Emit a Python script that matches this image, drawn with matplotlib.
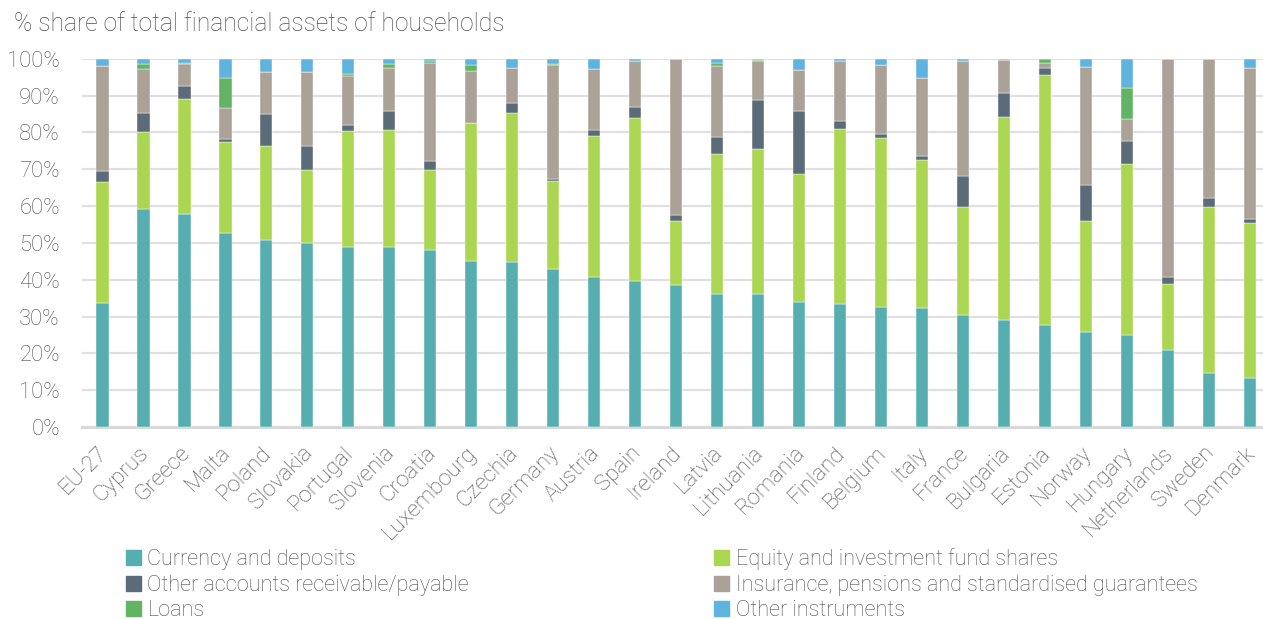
import numpy as np
import matplotlib
matplotlib.use("Agg")
import matplotlib.pyplot as plt
import matplotlib.transforms as mtrans
from matplotlib.patches import Patch

countries = ["EU-27", "Cyprus", "Greece", "Malta", "Poland", "Slovakia", "Portugal",
             "Slovenia", "Croatia", "Luxembourg", "Czechia", "Germany", "Austria", "Spain",
             "Ireland", "Latvia", "Lithuania", "Romania", "Finland", "Belgium", "Italy",
             "France", "Bulgaria", "Estonia", "Norway", "Hungary", "Netherlands", "Sweden",
             "Denmark"]

currency = [33.7, 59.2, 57.9, 52.6, 50.8, 50.0, 48.9, 48.9, 48.1, 45.1, 44.9, 43.0, 40.7, 39.6,
            38.5, 36.2, 36.1, 34.0, 33.5, 32.6, 32.4, 30.4, 29.1, 27.7, 25.7, 25.0, 20.9, 14.7, 13.3]
equity = [32.8, 21.0, 31.3, 24.8, 25.6, 19.8, 31.4, 31.9, 21.8, 37.4, 40.3, 23.9, 38.4, 44.4,
          17.4, 38.0, 39.4, 34.8, 47.5, 45.9, 40.0, 29.4, 55.1, 67.8, 30.3, 46.5, 17.9, 45.1, 42.1]
other_accounts = [3.0, 5.2, 3.5, 0.7, 8.7, 6.6, 1.6, 5.1, 2.4, 0.2, 2.8, 0.4, 1.6, 2.8,
                  1.8, 4.6, 13.3, 17.1, 2.0, 1.2, 1.3, 8.5, 6.4, 2.1, 9.7, 6.3, 1.9, 2.3, 1.2]
insurance = [28.5, 11.9, 5.8, 8.5, 11.3, 20.1, 13.5, 11.7, 26.5, 14.0, 9.4, 31.0, 16.5, 12.7,
             42.2, 19.2, 10.6, 11.0, 16.5, 18.5, 21.0, 31.1, 9.0, 1.3, 32.0, 5.8, 59.2, 37.8, 40.9]
loans = [0.1, 1.3, 0.3, 8.3, 0.0, 0.0, 0.6, 1.1, 0.5, 1.6, 0.0, 0.2, 0.0, 0.0,
         0.0, 0.9, 0.3, 0.0, 0.0, 0.0, 0.1, 0.0, 0.0, 1.1, 0.0, 8.6, 0.0, 0.0, 0.0]
other_instr = [1.9, 1.4, 1.2, 5.1, 3.6, 3.5, 4.0, 1.3, 0.7, 1.7, 2.6, 1.5, 2.8, 0.5,
               0.1, 1.1, 0.3, 3.1, 0.5, 1.8, 5.2, 0.6, 0.4, 0.0, 2.3, 7.8, 0.1, 0.1, 2.5]

series = [
    ("Currency and deposits", currency, "#57aeb0"),
    ("Equity and investment fund shares", equity, "#abd651"),
    ("Other accounts receivable/payable", other_accounts, "#5b6c78"),
    ("Insurance, pensions and standardised guarantees", insurance, "#aaa197"),
    ("Loans", loans, "#62b464"),
    ("Other instruments", other_instr, "#5eb4de"),
]

plt.rcParams["font.family"] = ["Roboto", "DejaVu Sans"]
plt.rcParams["font.weight"] = "light"
txt = "#4f4f4f"

fig = plt.figure(figsize=(12.63, 6.19), dpi=100)
ax = fig.add_axes([0.065, 0.31, 0.935, 0.595])

x = np.arange(len(countries))
bottom = np.zeros(len(countries))
for name, vals, col in series:
    vals = np.array(vals)
    ax.bar(x, vals, 0.31, bottom=bottom, color=col, label=name, zorder=3,
           edgecolor="white", linewidth=0.3)
    bottom += vals

ax.set_xlim(-0.49, 28.32)
ax.set_ylim(0, 100)
ax.set_yticks(np.arange(0, 101, 10))
ax.set_yticklabels([f"{v}%" for v in range(0, 101, 10)])
ax.yaxis.grid(True, color="#e0e0e0", linewidth=1.6, zorder=0)
for s in ["top", "right", "left"]:
    ax.spines[s].set_visible(False)
ax.spines["bottom"].set_color("#d9d9d9")
ax.spines["bottom"].set_linewidth(2.2)
ax.tick_params(axis="both", length=0, labelcolor=txt)
ax.tick_params(axis="y", pad=16, labelsize=15.8)
ax.set_xticks(x)
ax.set_xticklabels(countries, rotation=45, ha="right", rotation_mode="anchor")
ax.tick_params(axis="x", pad=11, labelsize=16.1)
# nudge the slanted labels a few pixels left so "Denmark" stays inside
shift = mtrans.ScaledTranslation(-5 / 100, 0, fig.dpi_scale_trans)
for lab in ax.get_xticklabels():
    lab.set_transform(lab.get_transform() + shift)

fig.text(0.011, 0.962, "% share of total financial assets of households",
         fontsize=17.7, color=txt, va="center", ha="left")

handles = [Patch(color=c) for _, _, c in series]
labels = [n for n, _, _ in series]
order = [0, 2, 4, 1, 3, 5]
leg = fig.legend([handles[i] for i in order], [labels[i] for i in order],
                 loc="upper left", bbox_to_anchor=(0.091, 0.132), ncol=2, frameon=False,
                 fontsize=15.6, handlelength=0.7, handleheight=0.7, handletextpad=0.3,
                 labelspacing=0.22, columnspacing=11.3, borderpad=0, labelcolor=txt)

fig.savefig("out.png", dpi=100)
